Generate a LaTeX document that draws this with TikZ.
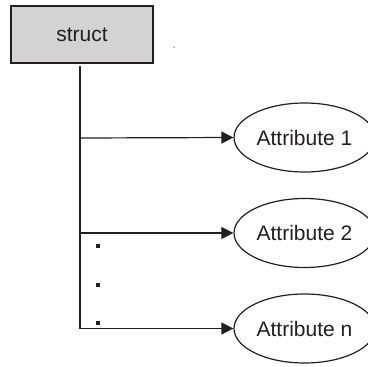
\documentclass[tikz,border=0pt]{standalone}
\usepackage{fontspec}
\setmainfont{Liberation Sans}
\usetikzlibrary{arrows.meta,shapes.geometric}
\definecolor{ink}{RGB}{35,31,32}
\definecolor{boxgray}{RGB}{211,211,213}
\begin{document}
\begin{tikzpicture}[x=1pt,y=-1pt,
  line width=1.2pt, draw=ink,
  structbox/.style={draw=ink, fill=boxgray, minimum width=142pt, minimum height=57pt, inner sep=0pt, font=\fontsize{21}{24}\selectfont, text=ink},
  attr/.style={draw=ink, ellipse, minimum width=141pt, minimum height=69pt, inner sep=0pt, font=\fontsize{21}{24}\selectfont, text=ink},
  link/.style={draw=ink, -{Triangle[length=12pt,width=12pt]}},
  dotmark/.style={fill=ink, minimum size=4pt, inner sep=0pt}]
\useasboundingbox (0,0) rectangle (367,367);
\node[structbox] (s) at (82,34.5) {struct};
\node[attr] (a1) at (304.5,137.5) {Attribute 1};
\node[attr] (a2) at (304.5,233) {Attribute 2};
\node[attr] (an) at (304.5,328.5) {Attribute n};
\coordinate (top) at (80,66);
\coordinate (b1) at (80,138);
\coordinate (b2) at (80,233);
\coordinate (bn) at (80,328.5);
\draw (top) -- (bn);
\draw[link] (b1) -- (a1.west);
\draw[link] (b2) -- (a2.west);
\draw[link] (bn) -- (an.west);
\node[dotmark] (d1) at (98,246) {};
\node[dotmark] (d2) at (98,285) {};
\node[dotmark] (d3) at (98,323) {};
\fill[ink] (174,47) circle (0.6pt);
\end{tikzpicture}
\end{document}
